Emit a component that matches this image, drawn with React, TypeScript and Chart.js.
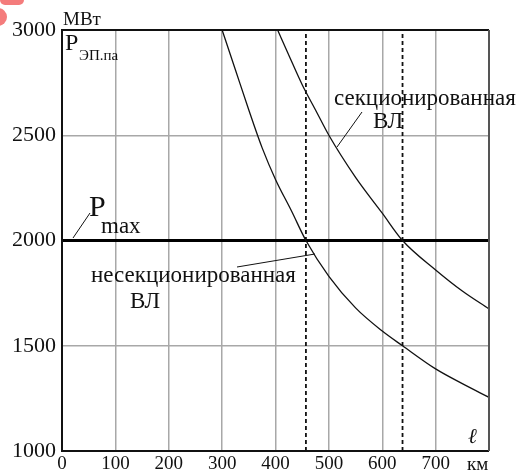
import { useEffect, useRef } from "react";
import { Chart, registerables } from "chart.js";

Chart.register(...registerables);

// Line length, km
const unsectionedL = [300, 325, 350, 375, 400, 430, 457, 500, 550, 600, 638, 700, 750, 800];
// Transmitted power of the unsectioned line, MW
const unsectionedP = [3000, 2810, 2620, 2440, 2290, 2140, 2000, 1830, 1680, 1570, 1500, 1390, 1320, 1255];

const sectionedL = [404, 425, 450, 475, 500, 550, 600, 638, 700, 750, 800];
const sectionedP = [3000, 2880, 2740, 2620, 2500, 2300, 2130, 2000, 1860, 1760, 1675];

const pMax = 2000;
const limitLengths = [457, 638];

const xTicks = [0, 100, 200, 300, 400, 500, 600, 700];
const yTicks = [1000, 1500, 2000, 2500, 3000];

const SERIF = "'Liberation Serif', 'Times New Roman', serif";

const annotations = {
  id: "annotations",
  afterDraw(chart: any) {
    const c = chart.ctx as CanvasRenderingContext2D;
    const { left, right, top, bottom } = chart.chartArea;
    c.save();

    // frame
    c.lineWidth = 2;
    c.strokeStyle = "#111";
    c.beginPath();
    c.moveTo(right, top);
    c.lineTo(left, top);
    c.lineTo(left, bottom);
    c.lineTo(right, bottom);
    c.stroke();
    c.strokeStyle = "#555";
    c.beginPath();
    c.moveTo(right, top);
    c.lineTo(right, bottom);
    c.stroke();

    c.fillStyle = "#111";
    c.textAlign = "left";
    c.textBaseline = "alphabetic";

    const text = (s: string, x: number, y: number, size: number, style = "") => {
      c.font = `${style} ${size}px ${SERIF}`;
      c.fillText(s, x, y);
    };

    text("МВт", 63, 25, 19);
    text("P", 65, 50, 24);
    text("ЭП.па", 79, 60, 15);

    text("P", 89, 216, 30);
    text("max", 101, 233, 23);

    text("секционированная", 334, 105, 23);
    text("ВЛ", 373, 128, 23);
    text("несекционированная", 91, 282, 23);
    text("ВЛ", 130, 308, 23);

    text("км", 467, 470, 19);
    text("ℓ", 468, 443, 21, "italic");

    // leader lines
    c.strokeStyle = "#111";
    c.lineWidth = 1;
    const seg = (x1: number, y1: number, x2: number, y2: number) => {
      c.beginPath();
      c.moveTo(x1, y1);
      c.lineTo(x2, y2);
      c.stroke();
    };
    seg(362, 112, 337, 147);
    seg(237, 267, 315, 254);
    seg(73, 238, 90, 213);

    // corner mark
    c.fillStyle = "#f47c7c";
    c.beginPath();
    c.roundRect(0, -6, 24, 11, 5);
    c.fill();
    c.beginPath();
    c.arc(-2, 17, 9, 0, Math.PI * 2);
    c.fill();

    c.restore();
  },
};

export default function App() {
  const ref = useRef<HTMLCanvasElement>(null);

  useEffect(() => {
    if (!ref.current) return;
    const toPts = (xs: number[], ys: number[]) => xs.map((x, i) => ({ x, y: ys[i] }));
    const gridColor = (edge: number[]) => (ctx: any) =>
      edge.includes(ctx.tick?.value) ? "rgba(0,0,0,0)" : "#a8a8a8";

    const chart = new Chart(ref.current, {
      type: "line",
      data: {
        datasets: [
          {
            data: toPts(unsectionedL, unsectionedP),
            borderColor: "#111",
            borderWidth: 1.3,
            pointRadius: 0,
            cubicInterpolationMode: "monotone",
          },
          {
            data: toPts(sectionedL, sectionedP),
            borderColor: "#111",
            borderWidth: 1.3,
            pointRadius: 0,
            cubicInterpolationMode: "monotone",
          },
          {
            data: [
              { x: 0, y: pMax },
              { x: 800, y: pMax },
            ],
            borderColor: "#000",
            borderWidth: 3,
            pointRadius: 0,
          },
          ...limitLengths.map((l) => ({
            data: [
              { x: l, y: 1000 },
              { x: l, y: 3000 },
            ],
            borderColor: "#111",
            borderWidth: 1.8,
            borderDash: [4, 3],
            pointRadius: 0,
          })),
        ],
      },
      options: {
        animation: false,
        responsive: false,
        maintainAspectRatio: false,
        parsing: false as any,
        layout: { padding: { left: 0, right: 27, top: 30, bottom: 0 } },
        plugins: { legend: { display: false }, tooltip: { enabled: false } },
        scales: {
          x: {
            type: "linear",
            min: 0,
            max: 800,
            afterFit: (s: any) => {
              s.height = 20;
            },
            afterBuildTicks: (s: any) => {
              s.ticks = [...xTicks, 800].map((v) => ({ value: v }));
            },
            ticks: {
              autoSkip: false,
              maxRotation: 0,
              padding: 2,
              color: "#111",
              font: { family: SERIF, size: 19 },
              callback: (v: any) => (xTicks.includes(v) ? String(v) : ""),
            },
            grid: { color: gridColor([0, 800]), lineWidth: 1.5, drawTicks: false },
            border: { display: false },
          },
          y: {
            type: "linear",
            min: 1000,
            max: 3000,
            afterFit: (s: any) => {
              s.width = 62;
            },
            afterBuildTicks: (s: any) => {
              s.ticks = yTicks.map((v) => ({ value: v }));
            },
            ticks: {
              padding: 6,
              color: "#111",
              font: { family: SERIF, size: 22 },
              callback: (v: any) => String(v),
            },
            grid: { color: gridColor([1000, 3000]), lineWidth: 1.5, drawTicks: false },
            border: { display: false },
          },
        },
      },
      plugins: [annotations],
    });
    return () => chart.destroy();
  }, []);

  return (
    <div style={{ position: "absolute", left: 0, top: 0, width: 516, height: 471, background: "#fff" }}>
      <canvas ref={ref} width={516} height={471} />
    </div>
  );
}
